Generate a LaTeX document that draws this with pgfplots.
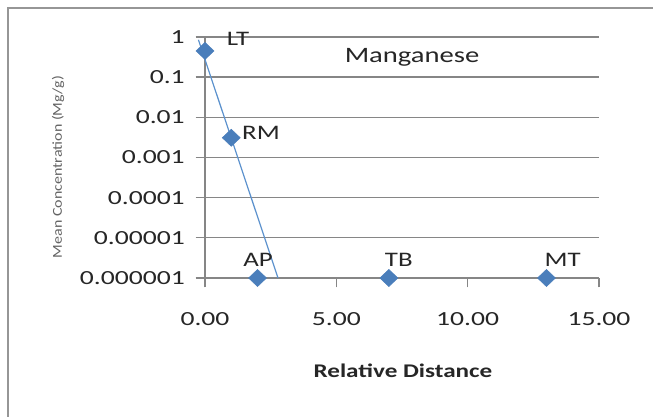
\documentclass[border=0pt]{standalone}
\usepackage{pgfplots}
\pgfplotsset{compat=1.18}
\usepackage{graphicx}
\usepackage{fontspec}
\setmainfont{Carlito}
\definecolor{xblue}{RGB}{74,126,187}
\definecolor{xline}{RGB}{91,145,205}
\definecolor{xgrid}{RGB}{134,134,134}
\definecolor{xframe}{RGB}{150,150,150}
\definecolor{ylab}{RGB}{100,100,100}
\newcommand\st[1]{\scalebox{1.3}[1]{#1}}
\newcommand\sk[1]{\scalebox{1.38}[1]{#1}}
\begin{document}
\begin{tikzpicture}
\begin{scope}[x=0.75pt,y=0.75pt]
\useasboundingbox (0,0) rectangle (653,417);
\fill[white] (0,0) rectangle (653,417);
\draw[xframe, line width=1.1pt] (8,-20) rectangle (700,409);
\node[anchor=base, inner sep=0pt, text=black!85] at (412,354) {\fontsize{16.5}{16.5}\selectfont\st{Manganese}};
\node[anchor=base, inner sep=0pt, text=black!85] at (403,39) {\fontsize{14.5}{14.5}\selectfont\bfseries\st{Relative Distance}};
\node[rotate=90, inner sep=0pt, text=ylab] at (58,250) {\fontsize{12}{12}\selectfont\scalebox{1}[0.85]{Mean Concentration (Mg/g)}};
\end{scope}
\begin{axis}[
  at={(153.75pt,104.25pt)}, anchor=south west,
  scale only axis, width=295.5pt, height=180.75pt,
  ymode=log, xmin=0, xmax=15, ymin=1e-6, ymax=1,
  clip=false,
  axis x line*=bottom, axis y line*=left,
  axis line style={xgrid, line width=1pt, -},
  xtick={0,5,10,15},
  xticklabels={\sk{0.00},\sk{5.00},\sk{10.00},\sk{15.00}},
  ytick={1e-6,1e-5,1e-4,1e-3,1e-2,1e-1,1},
  yticklabels={\sk{0.000001},\sk{0.00001},\sk{0.0001},\sk{0.001},\sk{0.01},\sk{0.1},\sk{1}},
  minor tick num=0, yminorticks=false,
  tick align=outside,
  major tick length=7pt,
  tick style={xgrid, line width=1pt},
  ymajorgrids, major grid style={xgrid, line width=1pt},
  ticklabel style={font=\fontsize{15}{15}\selectfont, text=black!85},
  xticklabel style={anchor=north, inner sep=0pt, yshift=-18.5pt},
  yticklabel style={anchor=east, inner sep=0pt, xshift=-8pt},
]
\addplot[xline, line width=0.9pt, no marks] coordinates {(-0.25,0.85) (2.78,1e-6)};
\addplot[only marks, mark=diamond*, mark size=6.4pt, mark options={xscale=1.4, fill=xblue, draw=xblue}]
  coordinates {(0,0.45) (1,0.0031) (2,1e-6) (7,1e-6) (13,1e-6)};
\begin{scope}[every node/.style={anchor=base, inner sep=0pt, font=\fontsize{15.5}{15.5}\selectfont, text=black!85}]
\node at (axis cs:1.26,0.63) {\st{LT}};
\node at (axis cs:2.13,0.00273) {\st{RM}};
\node at (axis cs:2.02,1.88e-6) {\st{AP}};
\node at (axis cs:7.38,1.88e-6) {\st{TB}};
\node at (axis cs:13.62,1.88e-6) {\st{MT}};
\end{scope}
\end{axis}
\end{tikzpicture}
\end{document}
